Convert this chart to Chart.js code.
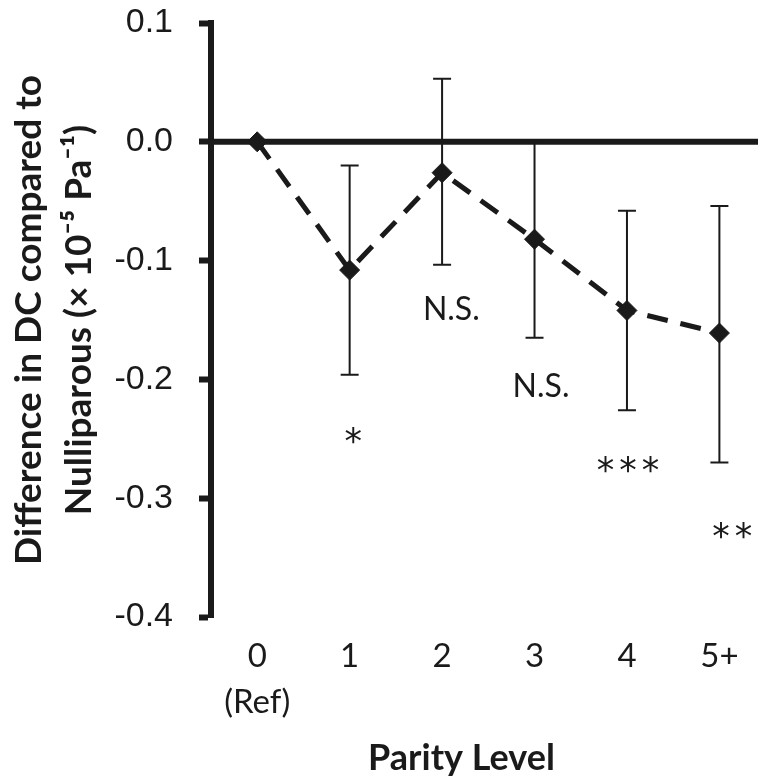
<!DOCTYPE html>
<html>
<head>
<meta charset="utf-8">
<script src="https://cdn.jsdelivr.net/npm/chart.js@4.4.0/dist/chart.umd.min.js"></script>
<style>
  html, body { margin: 0; padding: 0; background: #ffffff; }
  #wrap { width: 758px; height: 783px; }
</style>
</head>
<body>
<div id="wrap"><canvas id="c" width="758" height="783"></canvas></div>
<script>
// ---- data ----
const categories = ['0', '1', '2', '3', '4', '5+'];
const categorySubLabels = ['(Ref)', '', '', '', '', ''];
const meanDiff = [0.000, -0.108, -0.026, -0.082, -0.142, -0.161];
const ciUpper  = [0.000, -0.020,  0.053,  0.000, -0.058, -0.054];
const ciLower  = [0.000, -0.196, -0.1035, -0.165, -0.226, -0.270];
const sigLabels = ['', '*', 'N.S.', 'N.S.', '***', '**'];
const sigX = [0, 1.04, 2.10, 3.07, 4.01, 5.14];
const sigY = [0, -0.2475, -0.140, -0.2045, -0.272, -0.327];
const yTickValues = [0.1, 0.0, -0.1, -0.2, -0.3, -0.4];
const yTitle = ['Difference in DC compared to', 'Nulliparous (\u00d7 10\u207b\u2075 Pa\u207b\u00b9)'];
const xTitle = 'Parity Level';

const INK = '#1a1a1a';

const points = categories.map((c, i) => ({ x: i, y: meanDiff[i] }));

const errorBarPlugin = {
  id: 'errorBars',
  beforeDatasetsDraw(chart) {
    const { ctx, chartArea, scales: { x, y } } = chart;
    ctx.save();
    // zero reference line
    const y0 = y.getPixelForValue(0);
    ctx.strokeStyle = INK;
    ctx.lineWidth = 6;
    ctx.beginPath();
    ctx.moveTo(chartArea.left, y0);
    ctx.lineTo(chart.width, y0);
    ctx.stroke();
    // error bars
    ctx.lineWidth = 2;
    const cap = 9;
    for (let i = 0; i < categories.length; i++) {
      if (ciUpper[i] === ciLower[i]) continue;
      const px = x.getPixelForValue(i);
      const t = y.getPixelForValue(ciUpper[i]);
      const b = y.getPixelForValue(ciLower[i]);
      ctx.beginPath();
      ctx.moveTo(px, t); ctx.lineTo(px, b);
      ctx.moveTo(px - cap, t); ctx.lineTo(px + cap, t);
      ctx.moveTo(px - cap, b); ctx.lineTo(px + cap, b);
      ctx.stroke();
    }
    ctx.restore();
  },
  afterDatasetsDraw(chart) {
    const { ctx, scales: { x, y } } = chart;
    ctx.save();
    ctx.fillStyle = INK;
    ctx.textAlign = 'center';
    ctx.textBaseline = 'alphabetic';
    for (let i = 0; i < sigLabels.length; i++) {
      const s = sigLabels[i];
      if (!s) continue;
      const stars = s.startsWith('*');
      ctx.font = stars ? '35px "DejaVu Sans"' : '32px Lato';
      const spacing = stars ? 5 : 0;
      if ('letterSpacing' in ctx) ctx.letterSpacing = spacing + 'px';
      const m = ctx.measureText(s);
      const cx = x.getPixelForValue(sigX[i]) + spacing / 2;
      const cy = y.getPixelForValue(sigY[i]);
      ctx.fillText(s, cx, cy + (m.actualBoundingBoxAscent - m.actualBoundingBoxDescent) / 2);
    }
    ctx.restore();
  }
};

new Chart(document.getElementById('c'), {
  type: 'line',
  data: {
    datasets: [{
      data: points,
      borderColor: INK,
      backgroundColor: INK,
      borderWidth: 5,
      borderDash: [21, 13],
      pointStyle: 'rectRot',
      pointRadius: 10,
      pointBorderWidth: 1,
      pointBackgroundColor: INK,
      pointBorderColor: INK,
      tension: 0,
      fill: false,
      clip: false
    }]
  },
  options: {
    responsive: false,
    animation: false,
    devicePixelRatio: 1,
    layout: { padding: { top: 23, right: 46, bottom: 0, left: 0 } },
    plugins: { legend: { display: false }, tooltip: { enabled: false } },
    scales: {
      x: {
        type: 'linear',
        min: -0.5,
        max: 4.92,
        afterBuildTicks: (scale) => { scale.ticks = categories.map((c, i) => ({ value: i })); },
        afterFit: (scale) => { scale.height = 166; scale.paddingLeft = 0; scale.paddingRight = 0; },
        grid: { display: false, drawTicks: false, tickLength: 0 },
        border: { display: false },
        ticks: {
          autoSkip: false,
          maxRotation: 0,
          padding: 16,
          color: INK,
          font: { family: 'Lato', size: 33, lineHeight: 1.4 },
          callback: (v, i) => categorySubLabels[i] ? [categories[i], categorySubLabels[i]] : categories[i]
        },
        title: {
          display: true,
          text: xTitle,
          color: INK,
          font: { family: 'Lato', size: 36, weight: 'bold', lineHeight: 1.2 },
          padding: { top: 0, bottom: 3 }
        }
      },
      y: {
        min: -0.4,
        max: 0.1,
        afterBuildTicks: (scale) => { scale.ticks = yTickValues.map(v => ({ value: v })); },
        afterFit: (scale) => { scale.width = 211; scale.paddingTop = 0; scale.paddingBottom = 0; },
        grid: {
          drawOnChartArea: false,
          drawTicks: true,
          tickLength: 12,
          tickWidth: 6,
          tickColor: INK
        },
        border: { display: true, color: INK, width: 6 },
        ticks: {
          padding: 26,
          color: INK,
          font: { family: 'Liberation Sans', size: 34 },
          callback: (v) => Number(v).toFixed(1)
        },
        title: {
          display: true,
          text: yTitle,
          color: INK,
          font: { family: 'Lato', size: 37, weight: 'bold', lineHeight: 1.36 },
          padding: { top: 4, bottom: 0 }
        }
      }
    }
  },
  plugins: [errorBarPlugin]
});
</script>
</body>
</html>
